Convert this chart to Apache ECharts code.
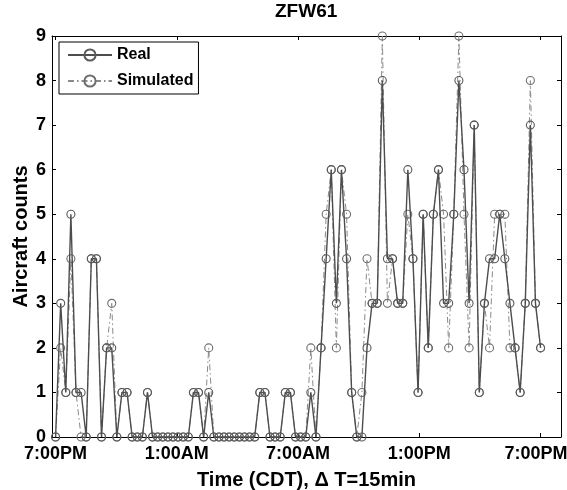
<!DOCTYPE html>
<html>
<head>
<meta charset="utf-8">
<script src="https://cdn.jsdelivr.net/npm/echarts@6/dist/echarts.min.js"></script>
<style>
html,body{margin:0;padding:0;background:#fff;}
#chart{width:567px;height:490px;}
</style>
</head>
<body>
<div id="chart"></div>
<script>
// Time tick labels and their positions (in 15-minute steps from 7:00PM)
const timeLabels = ['7:00PM', '1:00AM', '7:00AM', '1:00PM', '7:00PM'];
const tickPositions = [0, 23.75, 47.5, 71.25, 95];
const yTickValues = [0, 1, 2, 3, 4, 5, 6, 7, 8, 9];

// Aircraft counts per 15-minute interval
const real = [
  0, 3, 1, 5, 1, 1, 0, 4, 4, 0,
  2, 2, 0, 1, 1, 0, 0, 0, 1, 0,
  0, 0, 0, 0, 0, 0, 0, 1, 1, 0,
  1, 0, 0, 0, 0, 0, 0, 0, 0, 0,
  1, 1, 0, 0, 0, 1, 1, 0, 0, 0,
  1, 0, 2, 4, 6, 3, 6, 4, 1, 0,
  0, 2, 3, 3, 8, 4, 4, 3, 3, 6,
  4, 1, 5, 2, 5, 6, 3, 3, 5, 8,
  6, 3, 7, 1, 3, 4, 4, 5, 4, 3,
  2, 1, 3, 7, 3, 2
];
const simulated = [
  0, 2, 1, 4, 1, 0, 0, 4, 4, 0,
  2, 3, 0, 1, 1, 0, 0, 0, 1, 0,
  0, 0, 0, 0, 0, 0, 0, 1, 1, 0,
  2, 0, 0, 0, 0, 0, 0, 0, 0, 0,
  1, 1, 0, 0, 0, 1, 1, 0, 0, 0,
  2, 0, 2, 5, 6, 2, 6, 5, 1, 0,
  1, 4, 3, 3, 9, 3, 4, 3, 3, 5,
  4, 1, 5, 2, 5, 6, 5, 2, 5, 9,
  5, 2, 7, 1, 3, 2, 5, 5, 5, 2,
  2, 1, 3, 8, 3, 2
];

const FONT = '"Liberation Sans", Arial, Helvetica, sans-serif';
const chart = echarts.init(document.getElementById('chart'), null, {renderer: 'canvas'});

const tickStyle = {show: true, inside: true, length: 4, lineStyle: {color: '#000', width: 1}};
const lineAxis = {show: true, onZero: false, lineStyle: {color: '#000', width: 1}};
const labelFont = {fontFamily: FONT, fontWeight: 'bold', fontSize: 18, color: '#000'};

chart.setOption({
  animation: false,
  backgroundColor: '#fff',
  title: {
    text: 'ZFW61',
    left: 275,
    top: 2,
    padding: 0,
    textStyle: {fontFamily: FONT, fontWeight: 'bold', fontSize: 19, color: '#000'}
  },
  legend: {
    orient: 'vertical',
    left: 59,
    top: 42,
    backgroundColor: '#fff',
    borderColor: '#000',
    borderWidth: 1,
    padding: [4, 5, 4, 8],
    itemGap: 8,
    itemWidth: 44,
    itemHeight: 14,
    textStyle: {fontFamily: FONT, fontWeight: 'bold', fontSize: 16, color: '#000', lineHeight: 18},
    data: ['Real', 'Simulated']
  },
  grid: {left: 52, right: 6, top: 36, bottom: 53, containLabel: false, outerBoundsMode: 'none'},
  xAxis: [{
    type: 'value',
    min: -0.7,
    max: 99,
    position: 'bottom',
    axisLine: lineAxis,
    axisTick: Object.assign({customValues: tickPositions}, tickStyle),
    splitLine: {show: false},
    axisLabel: Object.assign({
      customValues: tickPositions,
      margin: 8,
      formatter: function (v) {
        const i = tickPositions.indexOf(v);
        if (i < 0) return '';
        return i === timeLabels.length - 1 ? '{last|' + timeLabels[i] + '}' : timeLabels[i];
      },
      rich: {last: Object.assign({padding: [0, 9, 0, 0]}, labelFont)}
    }, labelFont),
    name: 'Time (CDT), \u0394 T=15min',
    nameLocation: 'middle',
    nameGap: 33,
    nameTextStyle: {fontFamily: FONT, fontWeight: 'bold', fontSize: 20, color: '#000'}
  }, {
    type: 'value',
    min: -0.7,
    max: 99,
    position: 'top',
    axisLine: lineAxis,
    axisTick: Object.assign({customValues: tickPositions}, tickStyle),
    axisLabel: {show: false},
    splitLine: {show: false}
  }],
  yAxis: [{
    type: 'value',
    min: 0,
    max: 9,
    interval: 1,
    position: 'left',
    axisLine: lineAxis,
    axisTick: tickStyle,
    splitLine: {show: false},
    axisLabel: Object.assign({
      margin: 6,
      formatter: function (v) { return yTickValues.indexOf(v) >= 0 ? String(v) : ''; }
    }, labelFont),
    name: 'Aircraft counts',
    nameLocation: 'middle',
    nameGap: 21,
    nameMoveOverlap: false,
    nameTextStyle: {fontFamily: FONT, fontWeight: 'bold', fontSize: 20, color: '#000'}
  }, {
    type: 'value',
    min: 0,
    max: 9,
    interval: 1,
    position: 'right',
    axisLine: lineAxis,
    axisTick: tickStyle,
    axisLabel: {show: false},
    splitLine: {show: false}
  }],
  series: [{
    name: 'Simulated',
    type: 'line',
    xAxisIndex: 0,
    yAxisIndex: 0,
    data: simulated.map((v, i) => [i, v]),
    symbol: 'circle',
    symbolSize: 8,
    showAllSymbol: true,
    itemStyle: {color: 'rgba(255,255,255,0)', borderColor: '#6e6e6e', borderWidth: 1.1},
    lineStyle: {color: '#8a8a8a', width: 1, type: [6, 3, 1.5, 3]},
    emphasis: {disabled: true},
    z: 2
  }, {
    name: 'Real',
    type: 'line',
    xAxisIndex: 0,
    yAxisIndex: 0,
    data: real.map((v, i) => [i, v]),
    symbol: 'circle',
    symbolSize: 8,
    showAllSymbol: true,
    itemStyle: {color: 'rgba(255,255,255,0)', borderColor: '#5a5a5a', borderWidth: 1.1},
    lineStyle: {color: '#4d4d4d', width: 1.4, type: 'solid'},
    emphasis: {disabled: true},
    z: 3
  }]
});
</script>
</body>
</html>
